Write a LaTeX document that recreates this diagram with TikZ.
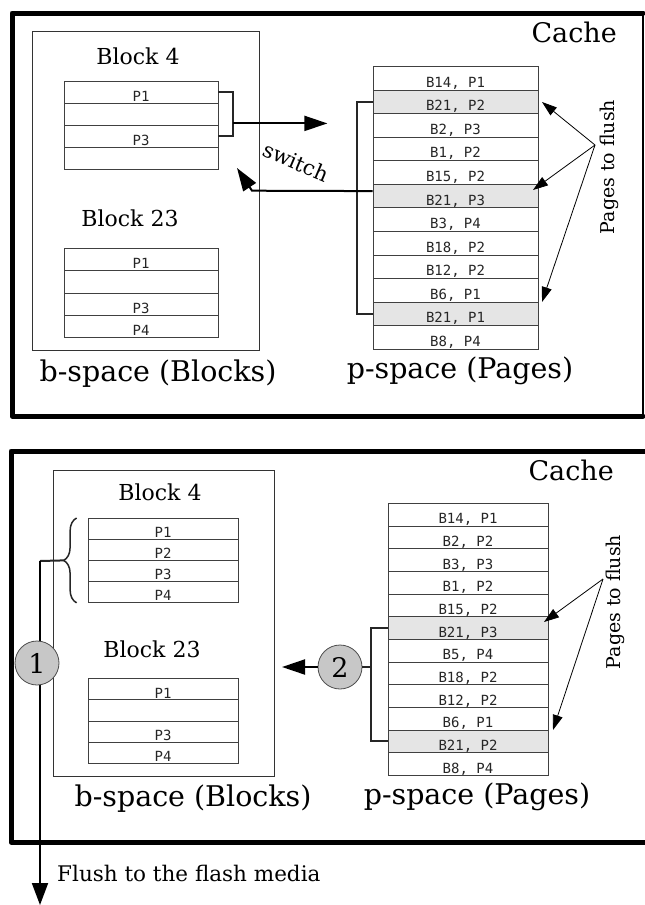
\documentclass[tikz,border=0pt]{standalone}
\usepackage{fontspec}
\setmainfont{DejaVu Serif}
\newfontfamily\monofont{DejaVu Sans Mono}
\usetikzlibrary{arrows.meta,decorations.pathreplacing,calc}
\begin{document}
\begin{tikzpicture}[x=1pt,y=-1pt,
  lbl/.style={inner sep=0pt},
  cellbox/.style={draw=black!75, line width=0.8pt, inner sep=0pt, anchor=north,
    text=black!85, font=\monofont\fontsize{14}{15}\selectfont,
    text height=18pt, text depth=0pt},
  spacebox/.style={draw=black!80, line width=0.8pt, inner sep=0pt, anchor=north west},
  panel/.style={line width=5pt, line join=round, line cap=round},
  brk/.style={line width=2pt, black!85},
  arr/.style={line width=2pt, -{Triangle[length=23pt,width=15pt]}},
  thinarr/.style={line width=0.8pt, -{Triangle[length=15pt,width=10pt]}},
  circ/.style={circle, draw=black!70, line width=0.8pt, fill=black!22, minimum size=44pt,
    inner sep=0pt, font=\fontsize{27}{30}\selectfont},
  bigtxt/.style={inner sep=0pt, font=\fontsize{28.5}{32}\selectfont},
  blocktxt/.style={inner sep=0pt, font=\fontsize{22}{26}\selectfont}
]
\useasboundingbox (0,0) rectangle (645,905);

% ================= TOP PANEL =================
\draw[panel] (643,13) -- (12,13) -- (12,416) -- (643,416);
\draw[line width=2pt] (643,13) -- (643,416);

\node[bigtxt, font=\fontsize{27}{30}\selectfont, anchor=east] (cache1) at (617,32) {Cache};

\node[spacebox, minimum width=227pt, minimum height=319pt] (bs1) at (32,31) {};
\node[blocktxt] (b4t) at (138,56) {Block 4};
\node[blocktxt] (b23t) at (130,218) {Block 23};

\foreach \t [count=\i] in {{P1},{},{P3},{}}
  \node[cellbox, minimum width=154pt, minimum height=22pt] (ta\i) at (141,{81+(\i-1)*22}) {\t};
\foreach \t [count=\i] in {{P1},{},{P3},{P4}}
  \node[cellbox, minimum width=154pt, minimum height=22.25pt] (tb\i) at (141,{248+(\i-1)*22.25}) {\t};

\node[bigtxt] (bsp1) at (158,374) {b-space (Blocks)};

\foreach \t/\f [count=\i] in {{B14, P1}/white,{B21, P2}/black!10,{B2, P3}/white,{B1, P2}/white,{B15, P2}/white,{B21, P3}/black!10,{B3, P4}/white,{B18, P2}/white,{B12, P2}/white,{B6, P1}/white,{B21, P1}/black!10,{B8, P4}/white}
  \node[cellbox, fill=\f, minimum width=165pt, minimum height=23.58pt] (tp\i) at (455.5,{66+(\i-1)*23.58}) {\t};

\node[bigtxt] (psp1) at (460,371) {p-space (Pages)};

% bracket + switch arrows
\draw[brk] (ta1.east) -- ++(15,0) |- (ta3.east);
\coordinate (swa) at ($(ta1.east)+(15,31)$);
\coordinate (swae) at ($(swa)+(94,0)$);
\draw[arr] (swa) -- (swae);

\draw[brk] (tp2.west) -- ++(-16,0) |- (tp11.west);
\coordinate (r6) at ($(tp6.west)+(0,-5)$);
\coordinate (swb) at (252,190.7);
\coordinate (swt) at (237,168);
\draw[arr] (r6) -- (swb) -- (swt);
\node[blocktxt, font=\fontsize{21}{24}\selectfont, rotate=-23] (swtxt) at (296,162) {switch};

% pages to flush
\node[lbl, font=\fontsize{19}{22}\selectfont, rotate=90] (ptf1) at (609,167) {Pages to flush};
\coordinate (o1) at (595,145);
\coordinate (t1a) at (542,102);
\coordinate (t1b) at (533,190);
\coordinate (t1c) at (542,302);
\draw[thinarr] (o1) -- (t1a);
\draw[thinarr] (o1) -- (t1b);
\draw[thinarr] (o1) -- (t1c);

% ================= BOTTOM PANEL =================
\draw[panel] (652,451) -- (11,451) -- (11,842) -- (652,842);

\node[bigtxt, font=\fontsize{27}{30}\selectfont, anchor=east] (cache2) at (614,470) {Cache};

\node[spacebox, minimum width=221pt, minimum height=306pt] (bs2) at (53,470) {};
\node[blocktxt] (b4b) at (160,492) {Block 4};
\node[blocktxt] (b23b) at (152,649) {Block 23};

\foreach \t [count=\i] in {{P1},{P2},{P3},{P4}}
  \node[cellbox, minimum width=150pt, minimum height=21pt] (ba\i) at (163,{518+(\i-1)*21}) {\t};
\foreach \t [count=\i] in {{P1},{},{P3},{P4}}
  \node[cellbox, minimum width=150pt, minimum height=21.25pt] (bb\i) at (163,{678+(\i-1)*21.25}) {\t};

\node[bigtxt] (bsp2) at (193,799) {b-space (Blocks)};

\foreach \t/\f [count=\i] in {{B14, P1}/white,{B2, P2}/white,{B3, P3}/white,{B1, P2}/white,{B15, P2}/white,{B21, P3}/black!10,{B5, P4}/white,{B18, P2}/white,{B12, P2}/white,{B6, P1}/white,{B21, P2}/black!10,{B8, P4}/white}
  \node[cellbox, fill=\f, minimum width=160pt, minimum height=22.67pt] (bp\i) at (468,{503+(\i-1)*22.67}) {\t};

\node[bigtxt] (psp2) at (477,797) {p-space (Pages)};

% brace and flush arrow
\coordinate (brA) at ($(ba1.north west)+(-11,0)$);
\coordinate (brB) at ($(ba4.south west)+(-11,0)$);
\draw[decorate, decoration={brace, amplitude=13pt}, line width=1.5pt, black!85] (brB) -- (brA);
\coordinate (brtip) at ($(brA)!0.5!(brB)+(-13,0)$);
\coordinate (fl1) at (40,561);
\coordinate (fl2) at (40,905);
\draw[brk] (brtip) -- (fl1);
\draw[line width=2pt, -{Triangle[length=22pt,width=16pt]}] (fl1) -- (fl2);
\node[circ] (c1) at (37,663) {1};
\node[lbl, font=\fontsize{21.5}{24}\selectfont, anchor=west] (flush) at (57,873) {Flush to the flash media};

% circle 2 and bracket
\node[circ] (c2) at (340,667) {2};
\coordinate (bvt) at ($(bp6.west)+(-17,0)$);
\draw[brk] (bp6.west) -- (bvt) |- (bp11.west);
\draw[brk] (c2.east) -- (bvt |- c2.east);
\coordinate (c2t) at (282,667);
\draw[arr] (c2.west) -- (c2t);

% pages to flush
\node[lbl, font=\fontsize{19}{22}\selectfont, rotate=90] (ptf2) at (615,602) {Pages to flush};
\coordinate (o2) at (603,579);
\coordinate (t2a) at (544,622);
\coordinate (t2b) at (553,730);
\draw[thinarr] (o2) -- (t2a);
\draw[thinarr] (o2) -- (t2b);
\end{tikzpicture}
\end{document}
